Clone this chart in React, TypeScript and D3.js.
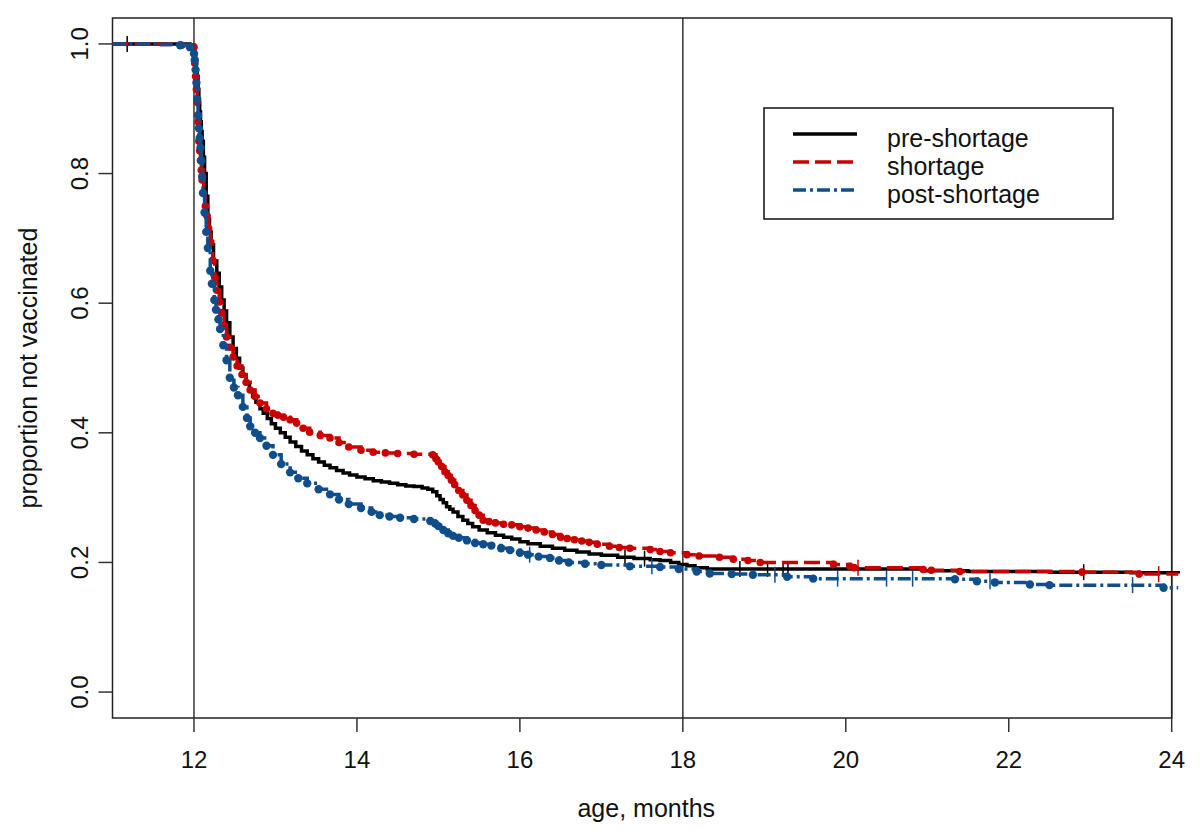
import React from "react";
import * as d3 from "d3";

// ---- data (Kaplan-Meier curves) ----
const preT = [11.0, 11.95, 12.0, 12.01, 12.02, 12.03, 12.04, 12.05, 12.06, 12.07, 12.08, 12.09, 12.1, 12.115, 12.13, 12.15, 12.17, 12.19, 12.21, 12.24, 12.28, 12.31, 12.34, 12.37, 12.4, 12.44, 12.48, 12.52, 12.56, 12.6, 12.64, 12.68, 12.72, 12.76, 12.81, 12.85, 12.9, 12.95, 13.0, 13.06, 13.12, 13.18, 13.25, 13.32, 13.39, 13.46, 13.53, 13.6, 13.67, 13.75, 13.83, 13.91, 14.0, 14.1, 14.2, 14.3, 14.4, 14.5, 14.6, 14.7, 14.8, 14.87, 14.93, 14.98, 15.02, 15.06, 15.1, 15.14, 15.18, 15.24, 15.3, 15.36, 15.42, 15.5, 15.6, 15.7, 15.8, 15.9, 16.0, 16.1, 16.25, 16.4, 16.55, 16.7, 16.85, 17.0, 17.2, 17.4, 17.6, 17.72, 17.85, 17.95, 18.05, 18.15, 18.3, 20.95, 21.5, 22.5, 23.5, 24.08];
const preS = [1.0, 0.998, 0.99, 0.98, 0.97, 0.96, 0.95, 0.93, 0.91, 0.895, 0.88, 0.865, 0.85, 0.825, 0.8, 0.765, 0.73, 0.71, 0.69, 0.665, 0.646, 0.625, 0.605, 0.588, 0.57, 0.548, 0.53, 0.515, 0.5, 0.488, 0.476, 0.466, 0.456, 0.447, 0.437, 0.43, 0.422, 0.414, 0.407, 0.4, 0.393, 0.386, 0.379, 0.372, 0.366, 0.36, 0.355, 0.35, 0.346, 0.342, 0.338, 0.335, 0.332, 0.329, 0.326, 0.324, 0.322, 0.32, 0.318, 0.317, 0.315, 0.313, 0.309, 0.303, 0.297, 0.292, 0.286, 0.282, 0.278, 0.271, 0.265, 0.26, 0.255, 0.25, 0.246, 0.242, 0.239, 0.236, 0.232, 0.229, 0.225, 0.222, 0.219, 0.216, 0.213, 0.211, 0.208, 0.206, 0.204, 0.203, 0.2, 0.197, 0.195, 0.192, 0.19, 0.187, 0.186, 0.185, 0.184, 0.183];

const shortT = [11.0, 11.6, 11.85, 12.0, 12.01, 12.02, 12.03, 12.04, 12.05, 12.06, 12.07, 12.08, 12.09, 12.1, 12.12, 12.14, 12.16, 12.18, 12.2, 12.23, 12.255, 12.28, 12.31, 12.34, 12.37, 12.4, 12.44, 12.48, 12.53, 12.59, 12.64, 12.69, 12.75, 12.81, 12.89, 12.97, 13.03, 13.1, 13.18, 13.26, 13.34, 13.42, 13.55, 13.67, 13.78, 13.9, 14.05, 14.2, 14.35, 14.5, 14.7, 14.93, 14.97, 15.0, 15.04, 15.08, 15.12, 15.16, 15.2, 15.25, 15.3, 15.35, 15.4, 15.45, 15.5, 15.55, 15.62, 15.7, 15.8, 15.9, 16.0, 16.1, 16.2, 16.3, 16.4, 16.5, 16.58, 16.67, 16.76, 16.85, 16.95, 17.1, 17.22, 17.35, 17.6, 17.72, 17.85, 18.05, 18.2, 18.45, 18.62, 18.8, 18.95, 19.85, 20.05, 20.1, 20.95, 21.05, 21.4, 22.9, 23.6, 24.08];
const shortS = [1.0, 0.999, 0.998, 0.995, 0.97, 0.95, 0.93, 0.91, 0.88, 0.85, 0.835, 0.82, 0.805, 0.79, 0.77, 0.75, 0.735, 0.715, 0.695, 0.666, 0.64, 0.62, 0.602, 0.585, 0.566, 0.548, 0.532, 0.517, 0.503, 0.49, 0.478, 0.466, 0.456, 0.446, 0.437, 0.43, 0.427, 0.424, 0.42, 0.415, 0.407, 0.401, 0.396, 0.392, 0.385, 0.378, 0.373, 0.37, 0.369, 0.368, 0.367, 0.366, 0.36, 0.355, 0.348, 0.34, 0.334, 0.327, 0.32, 0.311, 0.304, 0.296, 0.288, 0.28, 0.273, 0.265, 0.263, 0.261, 0.259, 0.258, 0.255, 0.253, 0.25, 0.247, 0.243, 0.239, 0.237, 0.235, 0.233, 0.231, 0.228, 0.225, 0.223, 0.222, 0.22, 0.217, 0.215, 0.212, 0.21, 0.208, 0.205, 0.203, 0.2, 0.197, 0.194, 0.192, 0.189, 0.188, 0.186, 0.185, 0.182, 0.182];

const postT = [11.0, 11.6, 11.83, 11.95, 12.0, 12.01, 12.02, 12.03, 12.04, 12.05, 12.06, 12.07, 12.08, 12.09, 12.1, 12.11, 12.13, 12.15, 12.17, 12.2, 12.22, 12.25, 12.27, 12.3, 12.32, 12.36, 12.4, 12.44, 12.49, 12.54, 12.6, 12.65, 12.69, 12.75, 12.81, 12.89, 12.97, 13.07, 13.18, 13.28, 13.39, 13.53, 13.67, 13.78, 13.9, 14.05, 14.18, 14.28, 14.4, 14.53, 14.7, 14.9, 14.96, 15.0, 15.06, 15.12, 15.18, 15.25, 15.35, 15.45, 15.55, 15.65, 15.77, 15.88, 16.0, 16.1, 16.23, 16.37, 16.48, 16.6, 16.8, 17.0, 17.35, 17.72, 17.95, 18.17, 18.33, 18.6, 18.86, 19.28, 19.6, 21.34, 21.61, 21.83, 22.26, 22.5, 23.9, 24.08];
const postS = [1.0, 0.999, 0.998, 0.995, 0.985, 0.975, 0.96, 0.94, 0.915, 0.89, 0.87, 0.855, 0.84, 0.82, 0.795, 0.77, 0.74, 0.71, 0.685, 0.65, 0.63, 0.605, 0.59, 0.575, 0.56, 0.535, 0.512, 0.485, 0.47, 0.458, 0.44, 0.423, 0.41, 0.4, 0.392, 0.38, 0.366, 0.352, 0.339, 0.33, 0.322, 0.313, 0.305, 0.297, 0.29, 0.284, 0.278, 0.273, 0.271, 0.269, 0.267, 0.264, 0.26, 0.256, 0.25, 0.245, 0.241, 0.238, 0.234, 0.23, 0.228, 0.226, 0.222, 0.219, 0.215, 0.212, 0.209, 0.207, 0.203, 0.2, 0.198, 0.196, 0.194, 0.193, 0.19, 0.186, 0.183, 0.182, 0.181, 0.178, 0.175, 0.174, 0.171, 0.169, 0.166, 0.165, 0.161, 0.161];

const preCensor = [11.18, 17.29, 17.53, 18.7, 19.04, 19.23, 19.29, 22.92];
const shortCensor = [20.15, 23.84];
const postCensor = [16.12, 17.62, 19.13, 19.9, 20.5, 20.82, 21.77, 23.52];

const xTicks = [12, 14, 16, 18, 20, 22, 24];
const yTicks = [0, 0.2, 0.4, 0.6, 0.8, 1.0];
const vLines = [12, 18, 24];
const legendLabels = ["pre-shortage", "shortage", "post-shortage"];

const FONT = "'Liberation Sans', Arial, Helvetica, sans-serif";

export default function App() {
  const W = 1200, H = 838;
  const left = 112.5, right = 1171.7, top = 18, bottom = 718;
  const x = d3.scaleLinear().domain([11.0, 24]).range([left, right]);
  const y = d3.scaleLinear().domain([-0.04, 1.04]).range([bottom, top]);

  const series = [
    { t: preT, s: preS, c: "#000000", dash: "", dots: false, censor: preCensor, lw: 3.5, r: 0 },
    { t: shortT, s: shortS, c: "#C80000", dash: "16,6", dots: true, censor: shortCensor, lw: 3.5, r: 3.8 },
    { t: postT, s: postS, c: "#104E8B", dash: "13,4,3,4", dots: true, censor: postCensor, lw: 3.5, r: 4.2 },
  ];

  const line = d3
    .line<[number, number]>()
    .x((d) => x(d[0]))
    .y((d) => y(d[1]))
    .curve(d3.curveStepAfter);

  const stepVal = (t: number[], s: number[], v: number) => {
    const i = d3.bisectRight(t, v) - 1;
    return s[Math.max(0, i)];
  };

  const fmt = d3.format(".1f");

  return (
    <svg width={W} height={H} style={{ display: "block", position: "absolute", left: 0, top: 0, background: "#fff" }}>
      <rect x={0} y={0} width={W} height={H} fill="#fff" />
      {vLines.map((v) => (
        <line key={"v" + v} x1={x(v)} x2={x(v)} y1={top} y2={bottom} stroke="#333" strokeWidth={1.5} />
      ))}
      <rect x={left} y={top} width={right - left} height={bottom - top} fill="none" stroke="#222" strokeWidth={1.5} />
      {xTicks.map((v) => (
        <g key={"xt" + v}>
          <line x1={x(v)} x2={x(v)} y1={bottom} y2={bottom + 14} stroke="#333" strokeWidth={1.5} />
          <text x={x(v)} y={768} textAnchor="middle" fontFamily={FONT} fontSize={24} fill="#111">
            {v}
          </text>
        </g>
      ))}
      {yTicks.map((v) => (
        <g key={"yt" + v}>
          <line x1={left - 14} x2={left} y1={y(v)} y2={y(v)} stroke="#333" strokeWidth={1.5} />
          <text transform={`translate(88,${y(v)}) rotate(-90)`} textAnchor="middle" fontFamily={FONT} fontSize={24} fill="#111">
            {fmt(v)}
          </text>
        </g>
      ))}
      <text x={(left + 1180) / 2} y={817} textAnchor="middle" fontFamily={FONT} fontSize={25} fill="#111">
        age, months
      </text>
      <text transform={`translate(37,${(top + bottom) / 2}) rotate(-90)`} textAnchor="middle" fontFamily={FONT} fontSize={25} fill="#111">
        proportion not vaccinated
      </text>
      {series.map((sr, k) => {
        const pts: [number, number][] = sr.t.map((t, i) => [t, sr.s[i]]);
        return (
          <g key={"s" + k}>
            <path d={line(pts) || ""} fill="none" stroke={sr.c} strokeWidth={sr.lw} strokeDasharray={sr.dash || undefined} />
            {sr.dots &&
              pts.slice(2, pts.length - 1).map((p, i) => (
                <circle key={i} cx={x(p[0])} cy={y(p[1])} r={sr.r} fill={sr.c} />
              ))}
            {sr.censor.map((c, i) => {
              const vy = y(stepVal(sr.t, sr.s, c));
              return <line key={"c" + i} x1={x(c)} x2={x(c)} y1={vy - 8} y2={vy + 8} stroke={sr.c} strokeWidth={1.5} />;
            })}
          </g>
        );
      })}
      <rect x={764} y={108} width={349} height={111} fill="#fff" stroke="#111" strokeWidth={1.5} />
      {series.map((sr, k) => (
        <g key={"lg" + k}>
          <line x1={793} x2={857} y1={134 + k * 28} y2={134 + k * 28} stroke={sr.c} strokeWidth={3.5} strokeDasharray={sr.dash || undefined} />
          <text x={887} y={147 + k * 28} fontFamily={FONT} fontSize={25} fill="#111">
            {legendLabels[k]}
          </text>
        </g>
      ))}
    </svg>
  );
}
